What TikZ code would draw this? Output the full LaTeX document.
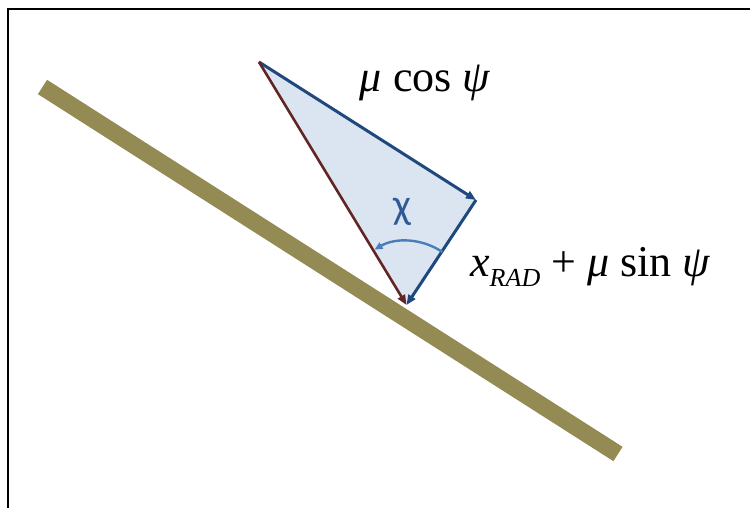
\documentclass[tikz,border=0pt]{standalone}
\usepackage{fontspec}
\setmainfont{Liberation Serif}
\newfontfamily\chifont{Carlito}
\usetikzlibrary{arrows.meta,positioning,calc}
\definecolor{Olive}{HTML}{948A54}
\definecolor{Navy}{HTML}{1F497D}
\definecolor{Maroon}{HTML}{632523}
\definecolor{Mist}{HTML}{DBE5F1}
\definecolor{Sky}{HTML}{4A7EBB}
\definecolor{ChiBlue}{HTML}{2F5A96}

\begin{document}
\begin{tikzpicture}[x=1pt,y=1pt,
  vec/.style={-{Triangle[length=10pt,width=8pt]},line width=3pt},
  lbl/.style={font=\fontsize{44}{48}\selectfont,anchor=base,inner sep=0pt}]
  \useasboundingbox (0,0) rectangle (750,508);
  \draw[line width=2pt] (8,0) -- (8,499) -- (750,499);

  \coordinate (barL) at (42.5,421);
  \coordinate (barR) at (618,54);
  \coordinate (top) at (259,446);
  \coordinate (right) at (476,308);
  \coordinate (foot) at (406.5,203);

  \draw[Olive,line width=17pt] (barL) -- (barR);
  \fill[Mist] (top) -- (right) -- (foot) -- cycle;
  \draw[vec,Navy] (top) -- (right);
  \draw[vec,Navy] (right) -- (foot);
  \draw[vec,Maroon,line width=2.6pt] (top) -- (foot);
  \draw[Sky,line width=2.4pt,-{Triangle[length=8pt,width=7pt]}]
    ([shift={(56:64)}]foot) arc[start angle=56,end angle=120,radius=64];

  \node[lbl] (cosLbl) at (425,416) {{\itshape μ} cos {\itshape ψ}};
  \node[lbl,anchor=base west] (sinLbl) at (470,231)
    {{\itshape x}\raisebox{-10pt}{\fontsize{26}{28}\selectfont\itshape RAD} + {\itshape μ} sin {\itshape ψ}};
  \node[font=\chifont\fontsize{42}{46}\selectfont,text=ChiBlue] (chiLbl) at (402,296) {χ};
\end{tikzpicture}
\end{document}
